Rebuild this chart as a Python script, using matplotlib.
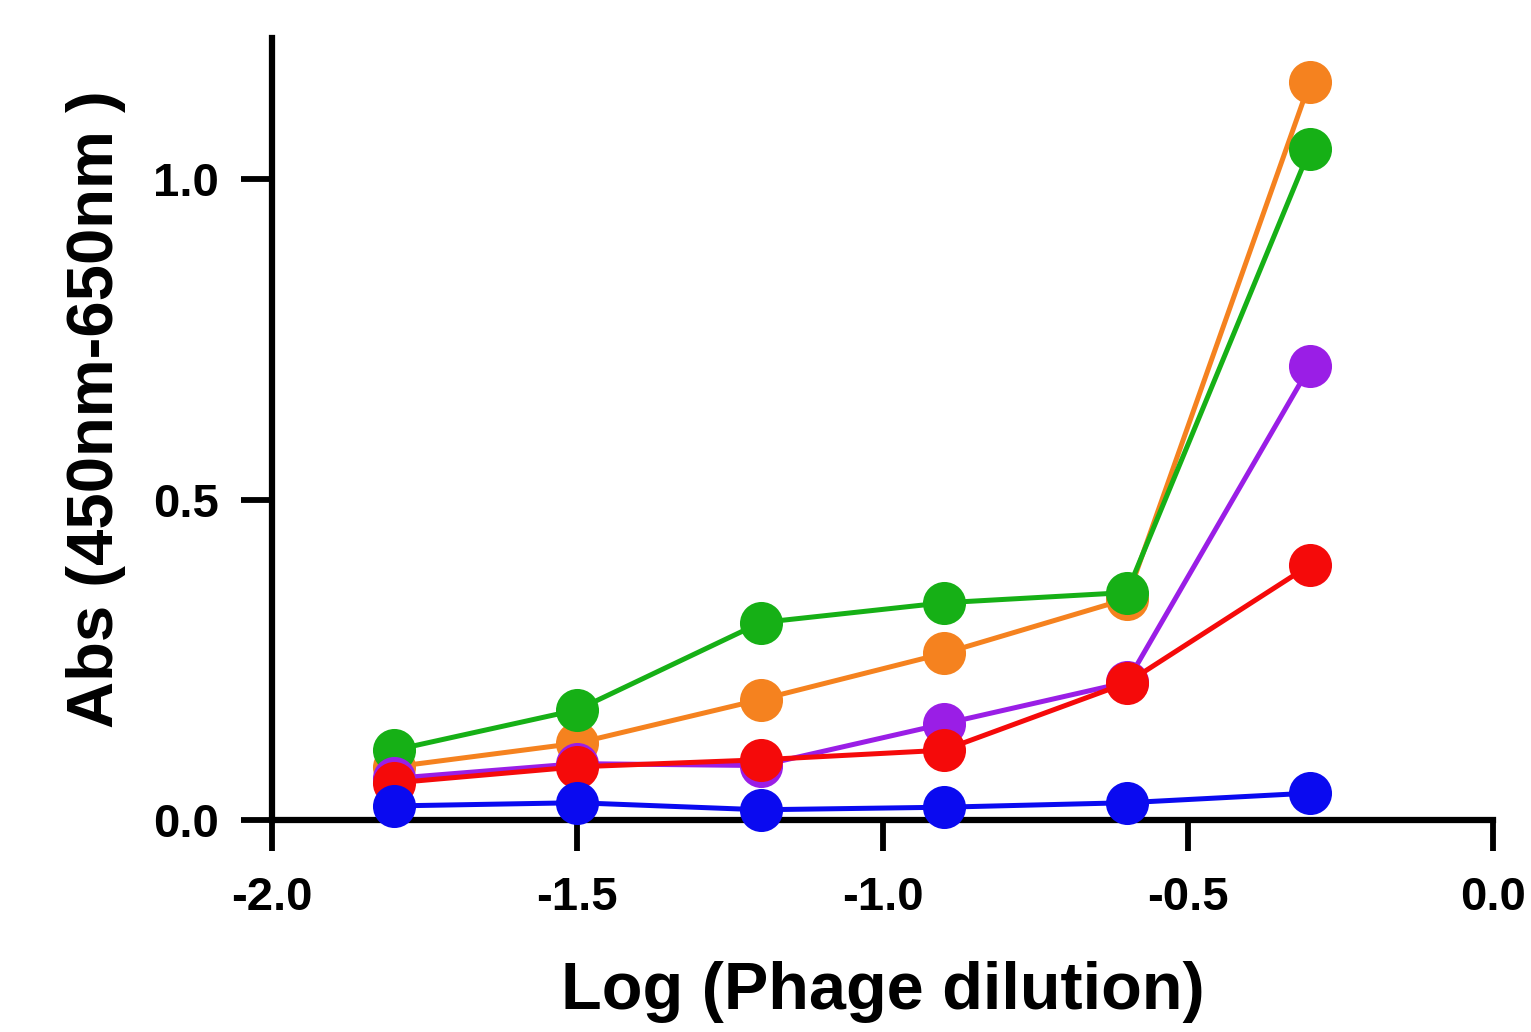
import matplotlib
matplotlib.use("Agg")
import matplotlib.pyplot as plt

log_dilution = [-1.8, -1.5, -1.2, -0.9, -0.6, -0.3]
orange = [0.083, 0.12, 0.188, 0.26, 0.345, 1.152]
green = [0.109, 0.172, 0.308, 0.339, 0.355, 1.047]
purple = [0.065, 0.088, 0.085, 0.150, 0.215, 0.708]
red = [0.058, 0.083, 0.094, 0.109, 0.214, 0.398]
blue = [0.022, 0.027, 0.016, 0.020, 0.027, 0.042]

series = [
    (orange, "#f5821f"),
    (green, "#16b016"),
    (purple, "#9a1ee6"),
    (red, "#f50a0a"),
    (blue, "#0a0af0"),
]

xticks = [-2.0, -1.5, -1.0, -0.5, 0.0]
xticklabels = ["-2.0", "-1.5", "-1.0", "-0.5", "0.0"]
yticks = [0.0, 0.5, 1.0]
yticklabels = ["0.0", "0.5", "1.0"]

plt.rcParams['font.family'] = ['Liberation Sans', 'DejaVu Sans']
plt.rcParams['font.weight'] = 'bold'

fig = plt.figure(figsize=(15.31, 10.32), dpi=100)
ax = fig.add_axes([0.1777, 0.2054, 0.7976, 0.7576])

for i, (vals, col) in enumerate(series):
    ax.plot(log_dilution, vals, color=col, lw=3.6, marker='o', markersize=31,
            markeredgewidth=0, clip_on=False, zorder=3 + i)

ax.set_xlim(-2.0, 0.0)
ax.set_ylim(0.0, 1.22)
ax.set_xticks(xticks)
ax.set_xticklabels(xticklabels)
ax.set_yticks(yticks)
ax.set_yticklabels(yticklabels)

for s in ['top', 'right']:
    ax.spines[s].set_visible(False)
for s in ['left', 'bottom']:
    ax.spines[s].set_linewidth(4.5)
    ax.spines[s].set_zorder(2)

ax.tick_params(axis='both', length=22, width=4.2, labelsize=34, direction='out')
ax.tick_params(axis='x', pad=18)
ax.tick_params(axis='y', pad=16)
for lab in ax.get_xticklabels() + ax.get_yticklabels():
    lab.set_fontweight('bold')

ax.set_xlabel("Log (Phage dilution)", fontsize=48, fontweight='bold', labelpad=30)
ax.set_ylabel("Abs (450nm-650nm )", fontsize=47, fontweight='bold')
ax.yaxis.set_label_coords(-0.12, 0.525)

fig.savefig("out.png", dpi=100, facecolor='white')
